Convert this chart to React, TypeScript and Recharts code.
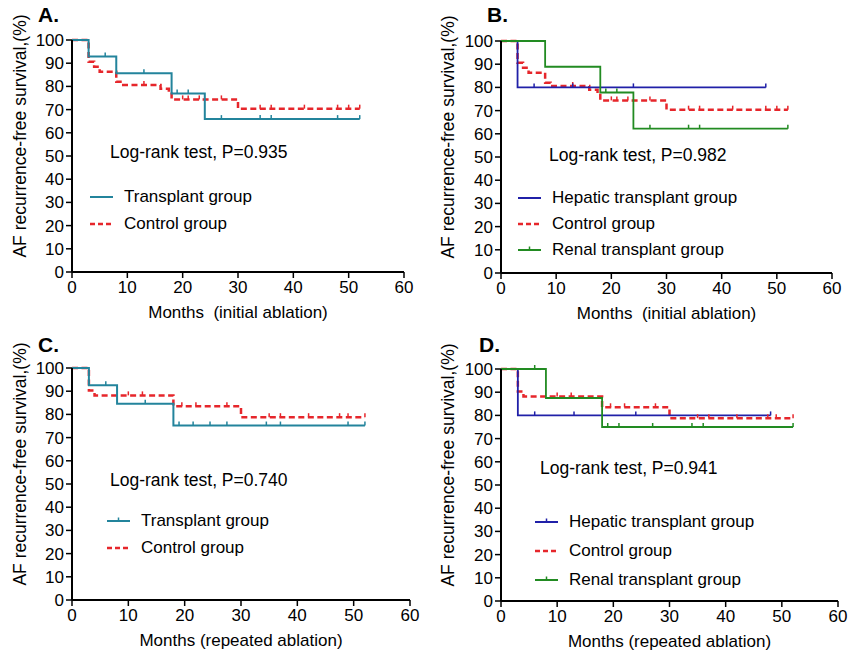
import React from 'react';
import { LineChart, Line, XAxis, YAxis, Legend } from 'recharts';

const FONT = '"Liberation Sans", Arial, Helvetica, sans-serif';

const TEAL = '#23849c';
const BLUE = '#2020a8';
const GREEN = '#228b22';
const RED = '#e6262b';

const monthTicks = [0, 10, 20, 30, 40, 50, 60];
const survivalTicks = [0, 10, 20, 30, 40, 50, 60, 70, 80, 90, 100];

// initial ablation (panels A and B)
const initTransplantMonths = [0, 3, 6, 8, 13, 18, 19, 21, 24, 27, 34, 36, 48, 52];
const initTransplantSurv = [100, 92.9, 92.9, 85.7, 85.7, 76.9, 76.9, 76.9, 65.9, 65.9, 65.9, 65.9, 65.9, 65.9];
const initTransplantCens = [0, 0, 1, 0, 1, 0, 1, 1, 0, 1, 1, 1, 1, 1];

const initControlMonths = [0, 3, 4, 5, 8, 9, 13, 16, 17.5, 18, 20, 21, 23, 27, 30, 34, 36, 42, 48, 50, 52];
const initControlSurv = [100, 90.6, 88.5, 86.3, 82.0, 80.6, 80.6, 79.0, 77.6, 74.4, 74.4, 74.4, 74.4, 74.4, 70.4, 70.4, 70.4, 70.4, 70.4, 70.4, 70.4];
const initControlCens = [0, 0, 0, 0, 0, 0, 1, 0, 0, 0, 1, 1, 1, 1, 0, 1, 1, 1, 1, 1, 1];

const initHepaticMonths = [0, 3, 6, 13, 24, 48];
const initHepaticSurv = [100, 80, 80, 80, 80, 80];
const initHepaticCens = [0, 0, 1, 1, 1, 1];

const initRenalMonths = [0, 8, 18, 19, 21, 24, 27, 34, 36, 52];
const initRenalSurv = [100, 88.9, 77.8, 77.8, 77.8, 62.2, 62.2, 62.2, 62.2, 62.2];
const initRenalCens = [0, 0, 0, 1, 1, 0, 1, 1, 1, 1];

// repeated ablation (panels C and D)
const repTransplantMonths = [0, 3, 6, 8, 13, 18, 19, 21.5, 24.5, 27.5, 34.5, 37, 49, 52];
const repTransplantSurv = [100, 92.6, 92.6, 84.6, 84.6, 75.2, 75.2, 75.2, 75.2, 75.2, 75.2, 75.2, 75.2, 75.2];
const repTransplantCens = [0, 0, 1, 0, 1, 0, 1, 1, 1, 1, 1, 1, 1, 1];

const repControlMonths = [0, 3, 4, 10, 12.5, 18, 19.5, 22, 27.5, 30, 35, 37, 42, 47.5, 49, 52];
const repControlSurv = [100, 90.3, 88.2, 88.2, 88.2, 83.5, 83.5, 83.5, 83.5, 78.8, 78.8, 78.8, 78.8, 78.8, 78.8, 78.8];
const repControlCens = [0, 0, 0, 1, 1, 0, 1, 1, 1, 0, 1, 1, 1, 1, 1, 1];

const repHepaticMonths = [0, 3, 6, 13, 24, 48];
const repHepaticSurv = [100, 80, 80, 80, 80, 80];
const repHepaticCens = [0, 0, 1, 1, 1, 1];

const repRenalMonths = [0, 6, 8, 18, 19, 21, 27, 34, 36, 52];
const repRenalSurv = [100, 100, 87.5, 75, 75, 75, 75, 75, 75, 75];
const repRenalCens = [0, 1, 0, 0, 1, 1, 1, 1, 1, 1];

type Pt = { t: number; s: number; c: number };
const toPoints = (m: number[], s: number[], c: number[]): Pt[] =>
  m.map((t, i) => ({ t, s: s[i], c: c[i] }));

interface Series {
  name: string;
  color: string;
  width: number;
  dashed?: boolean;
  data: Pt[];
  legendTick?: boolean;
}

const censorDot = (color: string) => (props: any) => {
  const { cx, cy, payload, index } = props;
  if (!payload || !payload.c || cx == null) return <g key={index} />;
  return <path key={index} d={`M${cx},${cy} V${cy - 4}`} stroke={color} strokeWidth={1.5} fill="none" />;
};

const xTitle = (text: string) => (props: any) => {
  const vb = props.viewBox || {};
  return (
    <text x={vb.x + vb.width / 2} y={vb.y + 40} textAnchor="middle" dominantBaseline="central"
      fontSize={17} fontFamily={FONT} fill="#000" style={{ whiteSpace: 'pre' }}>
      {text}
    </text>
  );
};

const yTitle = (text: string, dx: number) => (props: any) => {
  const vb = props.viewBox || {};
  const cx = vb.x + dx;
  const cy = vb.y + vb.height / 2 - 20;
  return (
    <text x={cx} y={cy} transform={`rotate(-90 ${cx} ${cy})`} textAnchor="middle" dominantBaseline="central"
      fontSize={17.5} fontFamily={FONT} fill="#000">
      {text}
    </text>
  );
};

interface PanelProps {
  letter: string;
  box: { left: number; top: number; width: number; height: number };
  margin: { top: number; right: number; bottom: number; left: number };
  yAxisWidth: number;
  xAxisHeight: number;
  xLabel: string;
  yLabelDx: number;
  series: Series[];
  legendOrder: string[];
  legendAt: { x: number; y: number };
  rowGap: number;
  logrank: string;
  logrankAt: { x: number; y: number };
  letterAt: { x: number; y: number };
}

function SurvivalPanel(p: PanelProps) {
  const legendRows = p.legendOrder.map((n) => p.series.find((s) => s.name === n) as Series);
  const legendContent = () => (
    <div style={{ fontFamily: FONT, fontSize: 17, color: '#000' }}>
      {legendRows.map((s) => (
        <div key={s.name} style={{ display: 'flex', alignItems: 'center', height: p.rowGap, whiteSpace: 'nowrap' }}>
          <svg width={23} height={10} style={{ marginRight: 11 }}>
            <line x1={0} y1={5} x2={23} y2={5} stroke={s.color} strokeWidth={s.dashed ? 2.5 : 2}
              strokeDasharray={s.dashed ? '5 3' : undefined} />
            {s.legendTick && <line x1={11.5} y1={5} x2={11.5} y2={1.5} stroke={s.color} strokeWidth={1.5} />}
          </svg>
          <span>{s.name}</span>
        </div>
      ))}
    </div>
  );

  return (
    <div style={{ position: 'absolute', left: p.box.left, top: p.box.top, width: p.box.width, height: p.box.height }}>
      <LineChart width={p.box.width} height={p.box.height} margin={p.margin}>
        <XAxis
          type="number"
          dataKey="t"
          domain={[0, 60]}
          ticks={monthTicks}
          interval={0}
          height={p.xAxisHeight}
          axisLine={{ stroke: '#000', strokeWidth: 2 }}
          tickLine={{ stroke: '#000', strokeWidth: 1.5 }}
          tickSize={6}
          tickMargin={3}
          tick={{ fill: '#000', fontSize: 17, fontFamily: FONT }}
          label={{ content: xTitle(p.xLabel) }}
        />
        <YAxis
          type="number"
          domain={[0, 100]}
          ticks={survivalTicks}
          interval={0}
          width={p.yAxisWidth}
          axisLine={{ stroke: '#000', strokeWidth: 2 }}
          tickLine={{ stroke: '#000', strokeWidth: 1.5 }}
          tickSize={6}
          tickMargin={2}
          tick={{ fill: '#000', fontSize: 17, fontFamily: FONT }}
          label={{ content: yTitle('AF recurrence-free survival,(%)', p.yLabelDx) }}
        />
        <Legend
          layout="horizontal"
          verticalAlign="middle"
          align="center"
          content={legendContent}
          wrapperStyle={{
            left: p.legendAt.x - p.box.left,
            top: p.legendAt.y - p.box.top - p.rowGap / 2,
            width: 300,
          }}
        />
        {p.series.map((s) => (
          <Line
            key={s.name}
            name={s.name}
            data={s.data}
            dataKey="s"
            type="stepAfter"
            stroke={s.color}
            strokeWidth={s.width}
            strokeDasharray={s.dashed ? '6 3.5' : undefined}
            dot={censorDot(s.color)}
            activeDot={false}
            isAnimationActive={false}
          />
        ))}
      </LineChart>
      <div style={{
        position: 'absolute', left: p.logrankAt.x - p.box.left, top: p.logrankAt.y - p.box.top - 10,
        fontFamily: FONT, fontSize: 17.5, lineHeight: '20px', whiteSpace: 'nowrap', color: '#000',
      }}>
        {p.logrank}
      </div>
      <div style={{
        position: 'absolute', left: p.letterAt.x - p.box.left, top: p.letterAt.y - p.box.top - 12,
        fontFamily: FONT, fontSize: 21, fontWeight: 'bold', lineHeight: '24px', color: '#000',
      }}>
        {p.letter}
      </div>
    </div>
  );
}

const initControl: Series = { name: 'Control group', color: RED, width: 2.5, dashed: true, data: toPoints(initControlMonths, initControlSurv, initControlCens) };
const repControl: Series = { name: 'Control group', color: RED, width: 2.5, dashed: true, data: toPoints(repControlMonths, repControlSurv, repControlCens) };

export default function App() {
  return (
    <div style={{ position: 'absolute', left: 0, top: 0, width: 851, height: 653, background: '#fff', overflow: 'hidden' }}>
      <SurvivalPanel
        letter="A."
        box={{ left: 0, top: 0, width: 430, height: 330 }}
        margin={{ top: 40, right: 26, bottom: 0, left: 0 }}
        yAxisWidth={72}
        xAxisHeight={58}
        xLabel="Months  (initial ablation)"
        yLabelDx={20}
        series={[
          initControl,
          { name: 'Transplant group', color: TEAL, width: 2, data: toPoints(initTransplantMonths, initTransplantSurv, initTransplantCens) },
        ]}
        legendOrder={['Transplant group', 'Control group']}
        legendAt={{ x: 90, y: 197 }}
        rowGap={27}
        logrank="Log-rank test, P=0.935"
        logrankAt={{ x: 110, y: 152 }}
        letterAt={{ x: 38, y: 15 }}
      />
      <SurvivalPanel
        letter="B."
        box={{ left: 430, top: 0, width: 421, height: 330 }}
        margin={{ top: 41, right: 19, bottom: 0, left: 0 }}
        yAxisWidth={71}
        xAxisHeight={57}
        xLabel="Months  (initial ablation)"
        yLabelDx={18}
        series={[
          initControl,
          { name: 'Hepatic transplant group', color: BLUE, width: 1.8, data: toPoints(initHepaticMonths, initHepaticSurv, initHepaticCens) },
          { name: 'Renal transplant group', color: GREEN, width: 1.8, legendTick: true, data: toPoints(initRenalMonths, initRenalSurv, initRenalCens) },
        ]}
        legendOrder={['Hepatic transplant group', 'Control group', 'Renal transplant group']}
        legendAt={{ x: 518, y: 198 }}
        rowGap={26}
        logrank="Log-rank test, P=0.982"
        logrankAt={{ x: 549, y: 155 }}
        letterAt={{ x: 487, y: 15 }}
      />
      <SurvivalPanel
        letter="C."
        box={{ left: 0, top: 328, width: 430, height: 325 }}
        margin={{ top: 40, right: 20, bottom: 0, left: 0 }}
        yAxisWidth={72}
        xAxisHeight={53}
        xLabel="Months (repeated ablation)"
        yLabelDx={20}
        series={[
          repControl,
          { name: 'Transplant group', color: TEAL, width: 2, legendTick: true, data: toPoints(repTransplantMonths, repTransplantSurv, repTransplantCens) },
        ]}
        legendOrder={['Transplant group', 'Control group']}
        legendAt={{ x: 107, y: 521 }}
        rowGap={27}
        logrank="Log-rank test, P=0.740"
        logrankAt={{ x: 110, y: 480 }}
        letterAt={{ x: 38, y: 345 }}
      />
      <SurvivalPanel
        letter="D."
        box={{ left: 430, top: 328, width: 421, height: 325 }}
        margin={{ top: 41, right: 13, bottom: 0, left: 0 }}
        yAxisWidth={71}
        xAxisHeight={52}
        xLabel="Months (repeated ablation)"
        yLabelDx={18}
        series={[
          repControl,
          { name: 'Hepatic transplant group', color: BLUE, width: 1.8, legendTick: true, data: toPoints(repHepaticMonths, repHepaticSurv, repHepaticCens) },
          { name: 'Renal transplant group', color: GREEN, width: 1.8, legendTick: true, data: toPoints(repRenalMonths, repRenalSurv, repRenalCens) },
        ]}
        legendOrder={['Hepatic transplant group', 'Control group', 'Renal transplant group']}
        legendAt={{ x: 535, y: 522 }}
        rowGap={29}
        logrank="Log-rank test, P=0.941"
        logrankAt={{ x: 540, y: 468 }}
        letterAt={{ x: 479, y: 345 }}
      />
    </div>
  );
}
